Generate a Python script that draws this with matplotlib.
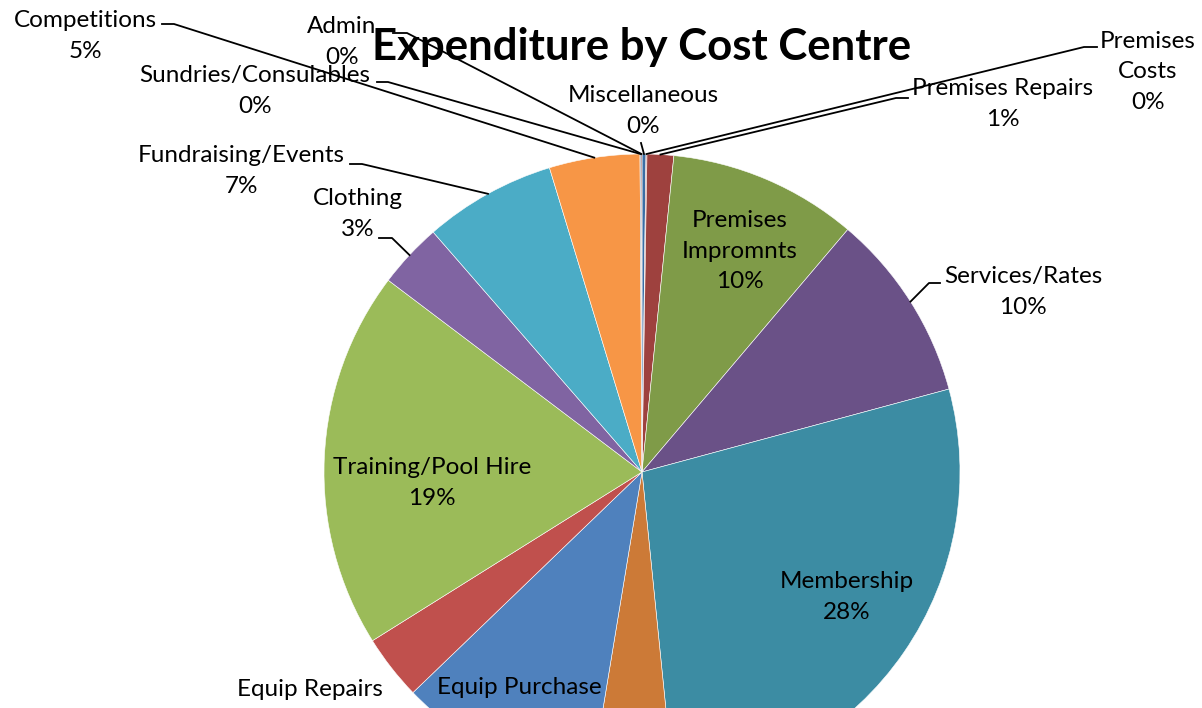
import numpy as np
import matplotlib.pyplot as plt

plt.rcParams['font.family'] = ['Lato', 'DejaVu Sans']

# 数据：从12点方向顺时针
names = ['Miscellaneous', 'Premises Costs', 'Premises Repairs', 'Premises Impromnts',
         'Services/Rates', 'Membership', 'Coaching', 'Equip Purchase', 'Equip Repairs',
         'Training/Pool Hire', 'Clothing', 'Fundraising/Events', 'Competitions',
         'Sundries/Consulables', 'Admin']
values = [0.2, 0.05, 1.35, 9.6, 9.6, 27.6, 4.2, 10.2, 3.3, 19.2, 3.3, 6.7, 4.6, 0.05, 0.05]
colors = ['#3A6EA5', '#A5423F', '#9E413E', '#7F9B48', '#6A5187', '#3C8CA3', '#CC7A37',
          '#4F81BD', '#C0504D', '#9BBB59', '#8064A2', '#4BACC6', '#F79646', '#2C4D75', '#772C2A']

W, H = 1202, 708
cx, cy, r = 642, H - 472, 318

# 标签布局（像素，自上而下）: 文字中心, 引导线起点, 引导线拐点
# Coaching 的标签在原图中被裁掉，不画
layout = {
    'Miscellaneous':        ((643, 111),   (641, 143), (641, 143)),
    'Premises Costs':       ((1148, 72),   (1097, 47), (1084, 47)),
    'Premises Repairs':     ((1003, 104),  (908, 98), (896, 98)),
    'Premises Impromnts':   ((740, 251),   None, None),
    'Services/Rates':       ((1023, 292),  (940, 283), (929, 283)),
    'Membership':           ((847, 597),   None, None),
    'Coaching':             (None,         None, None),
    'Equip Purchase':       ((519, 703),   None, None),
    'Equip Repairs':        ((310, 705),   None, None),
    'Training/Pool Hire':   ((432, 483),   None, None),
    'Clothing':             ((358, 214),   (379, 238), (392, 238)),
    'Fundraising/Events':   ((241, 171),   (350, 164), (362, 164)),
    'Competitions':         ((85, 36),     (162, 24), (174, 24)),
    'Sundries/Consulables': ((255, 91),    (377, 82), (388, 82)),
    'Admin':                ((342, 42),    (393, 33), (407, 33)),
}
label_names = {'Premises Costs': 'Premises\nCosts', 'Premises Impromnts': 'Premises\nImpromnts'}

fig = plt.figure(figsize=(W / 100, H / 100), dpi=100)
ax = fig.add_axes([0, 0, 1, 1])

wedges, _ = ax.pie(values, colors=colors, startangle=90, counterclock=False,
                   center=(cx, cy), radius=r, frame=True,
                   wedgeprops=dict(edgecolor='white', linewidth=0.4))
ax.set_xlim(0, W)
ax.set_ylim(0, H)
ax.set_aspect('equal')
ax.axis('off')

total = sum(values)
for w, name, v in zip(wedges, names, values):
    pos, p0, p1 = layout[name]
    if pos is None:
        continue
    tx, ty = pos
    txt = f"{label_names.get(name, name)}\n{round(v / total * 100):.0f}%"
    ax.text(tx, H - ty, txt, ha='center', va='center', fontsize=17.5,
            linespacing=1.55, color='black', zorder=5)
    if p0 is not None:
        mid = np.deg2rad((w.theta1 + w.theta2) / 2)
        ex, ey = cx + r * np.cos(mid), cy + r * np.sin(mid)
        ax.plot([p0[0], p1[0], ex], [H - p0[1], H - p1[1], ey], color='black',
                lw=1.3, zorder=4, clip_on=False)

ax.text(642, H - 47, 'Expenditure by Cost Centre', ha='center', va='center',
        fontsize=31.5, fontweight='bold', zorder=6)

fig.savefig('out.png', dpi=100)
